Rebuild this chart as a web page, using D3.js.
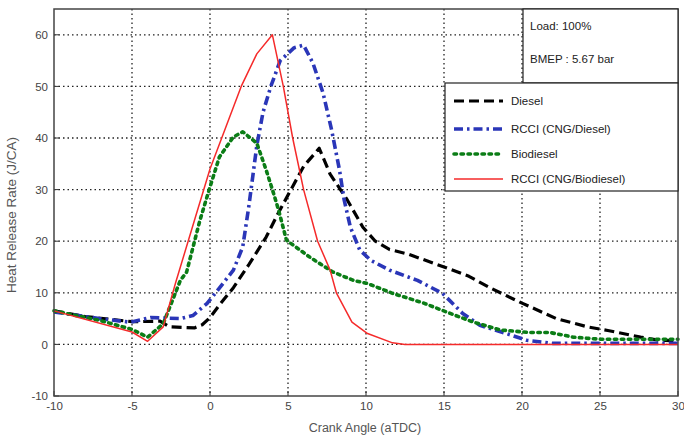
<!DOCTYPE html>
<html><head><meta charset="utf-8">
<script src="https://cdn.jsdelivr.net/npm/d3@7"></script>
<style>body{margin:0;background:#fff}svg{display:block}text{font-family:Arial,"Liberation Sans",sans-serif}</style>
</head><body><svg id="c" width="684" height="440"></svg>
<script>
const xTicks = [-10,-5,0,5,10,15,20,25,30];
const yTicks = [-10,0,10,20,30,40,50,60];
const seriesNames = ["Diesel","RCCI (CNG/Diesel)","Biodiesel","RCCI (CNG/Biodiesel)"];
const diesel = [[-10,6.5],[-8,5.4],[-5,4.4],[-3.2,4.5],[-2.6,3.4],[-1,3.2],[-0.5,3.8],[0,5.2],[0.7,8],[1.5,11],[2.5,15.5],[3.6,20.8],[4.3,25],[5.1,29.5],[6,34.5],[7,38],[7.7,33],[8.8,28],[9.8,22.7],[10.6,20],[11.5,18.4],[12.7,17.5],[15,15],[16.6,13.2],[18,10.9],[20,8],[22.2,5],[24.2,3.4],[25.5,2.7],[27.6,1.4],[28.8,0.8],[30,0.7]];
const rcciDiesel = [[-10,6.3],[-7.1,5],[-5.1,4.3],[-3.8,5.2],[-1.9,5],[-1.1,5.6],[-0.2,7.9],[0.6,10.9],[1.5,14.4],[2.1,18.9],[2.5,27],[3,38.5],[3.4,45],[3.9,50],[4.5,55],[5.4,57.5],[6,58],[6.6,54.5],[7.25,48.7],[7.8,41.5],[8.3,33.8],[8.6,28],[9,22.7],[9.6,18.3],[10.3,16.3],[11.5,14.4],[13.3,12.4],[14.9,9.9],[16.2,6],[17.3,3.7],[19,2.1],[20.3,0.8],[22,0.2],[30,0.2]];
const biodiesel = [[-10,6.5],[-7,4.6],[-5,2.9],[-4,1.4],[-3,4],[-1.9,12.4],[-1.5,14],[-0.65,24],[0,30.5],[0.6,36.3],[1.5,40.2],[2.1,41.2],[3,39],[3.6,33.8],[4,30],[4.4,26],[4.9,20.2],[6.4,16.9],[7.9,14],[9.2,12.4],[10.1,11.8],[11.7,9.9],[13.7,8],[15.4,6],[16.9,4.3],[18.6,2.8],[20.5,2.3],[21.8,2.3],[23.3,1.4],[25,1],[30,1]];
const rcciBiodiesel = [[-10,6.5],[-5,2.4],[-4,0.6],[-3,3.4],[-2.2,12],[-1,24],[0,34],[1,42],[2,50],[3,56.3],[4,60],[4.7,50],[5.3,40],[6,30],[6.9,20],[7.7,14.4],[8.1,10],[9.1,4.3],[10.1,2.1],[11.7,0.3],[12.5,0],[30,0]];
const colors = ["#000000","#2a36b8","#0b7d16","#f52a2a"];

const svg = d3.select("#c");
const L=54, R=678, T=9, B=396;
const x = d3.scaleLinear().domain([-10,30]).range([L,R]);
const y = d3.scaleLinear().domain([-10,65]).range([B,T]);
const fmt = d => String(d);

// grid
const g = svg.append("g");
g.selectAll(".gx").data(xTicks.filter(d=>d>-10&&d<30)).join("line")
 .attr("x1",d=>x(d)).attr("x2",d=>x(d)).attr("y1",T).attr("y2",B)
 .attr("stroke","#222").attr("stroke-width",1.3).attr("stroke-dasharray","1.5,3");
g.selectAll(".gy").data(yTicks.filter(d=>d>-10)).join("line")
 .attr("x1",L).attr("x2",R).attr("y1",d=>y(d)).attr("y2",d=>y(d))
 .attr("stroke","#222").attr("stroke-width",1.3).attr("stroke-dasharray","1.5,3");

// axes
const xa = svg.append("g").attr("transform",`translate(0,${B})`)
 .call(d3.axisBottom(x).tickValues(xTicks).tickSize(0).tickPadding(6).tickFormat(fmt));
const ya = svg.append("g").attr("transform",`translate(${L},0)`)
 .call(d3.axisLeft(y).tickValues(yTicks).tickSize(0).tickPadding(6).tickFormat(fmt));
[xa,ya].forEach(a=>{a.select(".domain").remove();a.selectAll("text").attr("font-size",11.5).attr("fill","#444");});
// inner ticks
svg.append("g").selectAll("line").data(xTicks).join("line")
 .attr("x1",d=>x(d)).attr("x2",d=>x(d)).attr("y1",B).attr("y2",B-5).attr("stroke","#333");
svg.append("g").selectAll("line").data(yTicks).join("line")
 .attr("x1",L).attr("x2",L+5).attr("y1",d=>y(d)).attr("y2",d=>y(d)).attr("stroke","#333");

// lines
const line = d3.line().x(d=>x(d[0])).y(d=>y(d[1]));
const data = [diesel,rcciDiesel,biodiesel,rcciBiodiesel];
const dashes = ["10,5","9,4,2.5,4","2.5,4.5",null];
const widths = [3.2,3.6,3.6,1.5];
const caps = ["butt","butt","round","butt"];
data.forEach((s,i)=>{
  svg.append("path").datum(s).attr("d",line).attr("fill","none")
   .attr("stroke",colors[i]).attr("stroke-width",widths[i])
   .attr("stroke-dasharray",dashes[i]).attr("stroke-linecap",caps[i]).attr("stroke-linejoin","round");
});

// frame
svg.append("rect").attr("x",L).attr("y",T).attr("width",R-L).attr("height",B-T)
 .attr("fill","none").attr("stroke","#444").attr("stroke-width",1.5);

// info box
svg.append("rect").attr("x",523).attr("y",T).attr("width",R-523).attr("height",83-T)
 .attr("fill","#fff").attr("stroke","#222").attr("stroke-width",1.2);
svg.append("text").attr("x",530).attr("y",30).attr("font-size",11.5).attr("fill","#222").text("Load: 100%");
svg.append("text").attr("x",530).attr("y",63).attr("font-size",11.5).attr("fill","#222").text("BMEP : 5.67 bar");

// legend
svg.append("rect").attr("x",445).attr("y",83).attr("width",R-445).attr("height",191-83)
 .attr("fill","#fff").attr("stroke","#222").attr("stroke-width",1.2);
const ly=[101,129,154,179];
seriesNames.forEach((n,i)=>{
  svg.append("line").attr("x1",454).attr("x2",503).attr("y1",ly[i]).attr("y2",ly[i])
   .attr("stroke",colors[i]).attr("stroke-width",widths[i]).attr("stroke-dasharray",dashes[i]).attr("stroke-linecap",caps[i]);
  svg.append("text").attr("x",511).attr("y",ly[i]+4).attr("font-size",11.5).attr("fill","#222").text(n);
});

// axis labels
svg.append("text").attr("x",365).attr("y",432).attr("text-anchor","middle").attr("font-size",12.5).attr("fill","#555").text("Crank Angle (aTDC)");
svg.append("text").attr("transform","translate(16,215) rotate(-90)").attr("text-anchor","middle").attr("font-size",13.5).attr("fill","#555").text("Heat Release Rate (J/CA)");
</script></body></html>
